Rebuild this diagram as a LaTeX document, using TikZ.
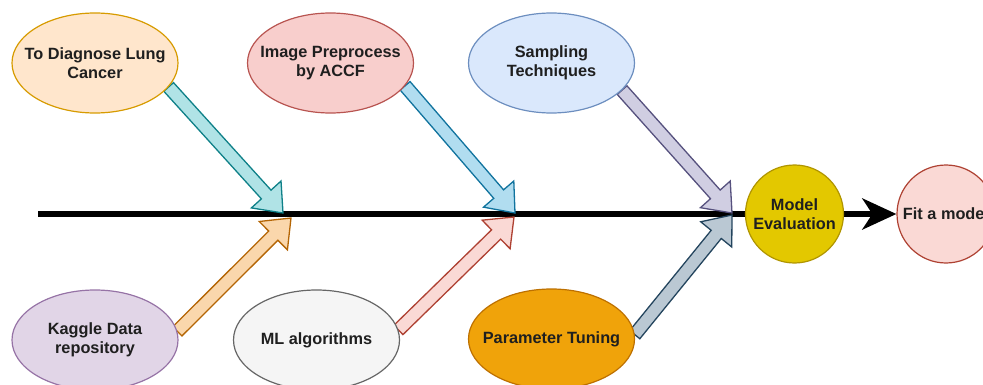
\documentclass[tikz,border=0pt]{standalone}
\usepackage{fontspec}
\setmainfont{Liberation Sans}
\usetikzlibrary{shapes.geometric,calc,arrows.meta,backgrounds}
\definecolor{oF}{HTML}{FFE6CC}\definecolor{oD}{HTML}{D79B00}
\definecolor{rF}{HTML}{F8CECC}\definecolor{rD}{HTML}{B85450}
\definecolor{bF}{HTML}{DAE8FC}\definecolor{bD}{HTML}{6C8EBF}
\definecolor{pF}{HTML}{E1D5E7}\definecolor{pD}{HTML}{9673A6}
\definecolor{gF}{HTML}{F5F5F5}\definecolor{gD}{HTML}{666666}
\definecolor{dF}{HTML}{F0A30A}\definecolor{dD}{HTML}{BD7000}
\definecolor{yF}{HTML}{E3C800}\definecolor{yD}{HTML}{B09500}
\definecolor{kF}{HTML}{FAD9D5}\definecolor{kD}{HTML}{AE4132}
\definecolor{tF}{HTML}{B0E3E6}\definecolor{tD}{HTML}{0E8088}
\definecolor{sF}{HTML}{B1DDF0}\definecolor{sD}{HTML}{10739E}
\definecolor{vF}{HTML}{D0CEE2}\definecolor{vD}{HTML}{56517E}
\definecolor{aF}{HTML}{FAD7AC}\definecolor{aD}{HTML}{B46504}
\definecolor{qF}{HTML}{BAC8D3}\definecolor{qD}{HTML}{23445D}
\newcommand\fatarrow[3]{%
  \coordinate (fa-h) at ($(#3)!25pt!(#2)$);
  \path[barrow,#1] ($(#2)!6.5pt!90:(#3)$) -- ($(fa-h)!6.5pt!-90:(#2)$) -- ($(fa-h)!20pt!-90:(#2)$) -- (#3) -- ($(fa-h)!20pt!90:(#2)$) -- ($(fa-h)!6.5pt!90:(#2)$) -- ($(#2)!6.5pt!-90:(#3)$) -- cycle;}
\begin{document}
\begin{tikzpicture}[x=1pt,y=-1pt,
  lbl/.style={font=\bfseries\fontsize{16.3}{19}\selectfont, text=black!88, align=center},
  oval/.style={ellipse, draw, line width=1.2pt, minimum width=166pt, minimum height=100pt, inner xsep=-22pt, inner ysep=0pt, lbl},
  disc/.style={circle, draw, line width=1.2pt, minimum size=98pt, inner sep=0pt, lbl},
  barrow/.style={line width=1.3pt, line join=miter}]
\useasboundingbox (0,0) rectangle (983,385);
\clip (0,0) rectangle (983,385);
\node[oval, fill=oF, draw=oD] (diag) at (95,63) {To Diagnose Lung\\Cancer};
\node[oval, fill=rF, draw=rD] (prep) at (330.5,63) {Image Preprocess\\by ACCF};
\node[oval, fill=bF, draw=bD] (samp) at (551.5,63) {Sampling\\Techniques};
\node[oval, fill=pF, draw=pD] (kag) at (95,340) {Kaggle Data\\repository};
\node[oval, fill=gF, draw=gD] (mlal) at (316.5,340) {ML algorithms};
\node[oval, fill=dF, draw=dD] (param) at (551.5,339) {Parameter Tuning};
\node[disc, fill=yF, draw=yD] (eval) at (794.5,214) {Model\\Evaluation};
\node[disc, fill=kF, draw=kD] (fit) at (946,214) {Fit a model};
\coordinate (spine) at (38,214);
\coordinate (t1) at (283,213);
\coordinate (t2) at (515,213);
\coordinate (t3) at (732,213);
\coordinate (t4) at (291,218);
\coordinate (t5) at (514,217);
\coordinate (t6) at (732,215);
\begin{scope}[on background layer]
\draw[line width=6pt] (spine) -- (eval.west);
\draw[line width=6pt, -{Stealth[length=34pt,width=31pt,inset=10pt]}] (eval.east) -- (fit.west);
\fatarrow{fill=tF,draw=tD}{diag.-18}{t1}
\fatarrow{fill=sF,draw=sD}{prep.-17}{t2}
\fatarrow{fill=vF,draw=vD}{samp.-21}{t3}
\fatarrow{fill=aF,draw=aD}{kag.6}{t4}
\fatarrow{fill=kF,draw=kD}{mlal.7}{t5}
\fatarrow{fill=qF,draw=qD}{param.3}{t6}
\end{scope}
\end{tikzpicture}
\end{document}
